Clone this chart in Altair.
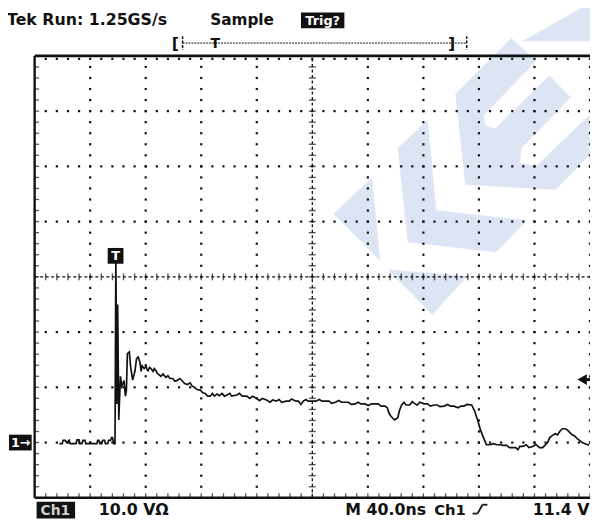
import altair as alt
import pandas as pd
import numpy as np

# ---- acquired trace (time in ns from left of screen, volts above Ch1 ground) ----
trace_t = [17.8, 19.9, 20.5, 22.0, 23.0, 24.9, 25.5, 29.8, 30.5, 32.0, 32.6, 34.1, 34.8, 36.2, 36.8,
           44.8, 45.4, 46.2, 47.0, 48.3, 49.0, 50.4, 51.0, 52.6, 53.3, 54.7, 55.4, 56.1, 57.0, 57.9,
           58.5, 59.2, 59.8, 60.6, 61.8, 62.7, 64.4, 65.4, 66.1, 66.8, 68.2, 69.1, 70.6, 72.3, 73.4,
           74.6, 75.8, 76.7, 77.4, 78.9, 80.3, 81.0, 81.7, 82.8, 83.8, 85.3, 86.2, 87.4, 88.4, 89.5,
           90.9, 92.5, 94.5, 96.0, 97.5, 99.5, 101.0, 103.0, 104.5, 106.6, 108.0, 110.1, 112.0, 113.5,
           115.1, 117.0, 119.4, 121.0, 122.9, 124.6, 126.5, 128.0, 129.5, 131.4, 133.0, 135.0, 136.7,
           138.5, 140.5, 142.0, 145.7, 147.5, 149.5, 152.8, 155.0, 157.0, 159.9, 162.0, 164.0, 167.0,
           169.5, 171.5, 174.1, 176.0, 178.0, 181.2, 183.5, 185.0, 188.3, 190.0, 191.8, 193.5, 195.4,
           197.0, 202.5, 205.0, 207.0, 209.6, 212.0, 214.0, 216.7, 219.0, 221.0, 223.8, 226.0, 228.0,
           230.9, 233.0, 235.0, 238.0, 240.5, 242.5, 245.1, 247.5, 249.5, 252.2, 254.0, 255.3, 256.5,
           258.0, 259.3, 260.5, 261.5, 262.8, 264.3, 266.0, 267.5, 270.0, 272.0, 273.5, 275.5, 277.5,
           280.6, 283.0, 285.0, 287.8, 290.0, 292.0, 294.9, 297.5, 299.5, 302.0, 305.0, 307.0, 309.1,
           311.5, 314.8, 316.9, 319.0, 321.1, 323.3, 325.4, 328.0, 330.4, 333.0, 335.5, 337.5, 340.0,
           342.0, 344.6, 346.5, 348.1, 349.5, 351.7, 354.0, 356.0, 358.8, 361.0, 363.5, 365.9, 367.5,
           369.5, 371.0, 373.0, 375.0, 376.6, 378.5, 380.1, 382.0, 383.7, 385.5, 387.2, 389.0, 390.8,
           392.5, 394.3, 396.5, 399.3]
trace_v = [-0.2, -0.2, 0.4, 0.4, 0.0, 0.4, -0.2, -0.2, 0.5, 0.5, -0.2, -0.2, 0.4, 0.4, -0.2,
           -0.2, 0.4, 0.4, -0.2, -0.2, 0.4, 0.4, -0.2, -0.2, 0.4, 0.4, 0.9, 0.9, -0.2, -0.2,
           33.5, 7.0, 25.0, 4.1, 12.0, 10.2, 11.2, 8.4, 9.5, 16.1, 16.4, 13.8, 11.3, 13.0, 15.2,
           15.5, 14.6, 12.9, 13.9, 13.4, 13.8, 13.2, 13.0, 13.6, 13.4, 12.9, 13.4, 13.0, 12.5, 12.3,
           12.0, 12.4, 11.8, 12.1, 11.6, 11.6, 11.1, 11.3, 11.6, 11.1, 10.7, 10.5, 10.8, 10.2,
           10.0, 9.6, 9.5, 9.0, 8.9, 8.4, 8.4, 8.9, 8.4, 8.8, 8.5, 8.9, 8.4,
           8.6, 8.9, 8.4, 8.6, 8.9, 8.4, 8.4, 8.0, 8.4, 8.0, 7.6, 8.0, 7.7,
           7.3, 7.7, 7.5, 7.8, 7.3, 7.5, 7.5, 7.9, 7.5, 7.5, 6.9, 7.5, 7.8,
           7.5, 7.5, 7.8, 7.5, 7.5, 7.5, 7.1, 7.3, 7.6, 7.3, 7.3, 7.3, 6.9,
           7.0, 7.3, 7.0, 7.0, 6.7, 7.0, 7.0, 7.0, 6.6, 6.6, 6.3, 5.3, 4.8,
           4.4, 4.1, 4.3, 4.5, 5.8, 6.8, 7.3, 6.8, 6.8, 7.4, 7.1, 6.8, 7.3,
           7.0, 7.0, 6.6, 6.8, 6.8, 6.5, 6.6, 6.9, 6.6, 6.6, 6.3, 6.6, 6.6,
           6.9, 6.8, 5.7, 4.1, 2.3, 0.9, -0.4, -0.4, -0.2, -0.4, -0.4, -0.5, -0.5,
           -0.9, -0.9, -0.9, -1.3, -0.7, -0.7, -0.4, -0.9, -0.7, -0.3, -0.9, -0.9, -0.5,
           0.0, 0.9, 1.3, 1.6, 1.4, 2.1, 2.5, 2.5, 2.3, 1.8, 1.4, 1.2, 0.7,
           0.4, 0.0, -0.2, -0.5]

# ---- scope settings ----
NS_PER_DIV = 40
V_PER_DIV = 10
T_MIN, T_MAX = 0, 400
V_MIN, V_MAX = -10, 70
CENTER_T, CENTER_V = 200, 30
TRIG_T = 58.3
TRIG_MARK_V = 33.8
TRIG_LEVEL = 11.4

# ---- watermark logo outline (same time / volt coordinates) ----
wm_poly = [1] * 15 + [2] * 6 + [3] * 3 + [4] * 3 + [5] * 3
wm_t = [303.2, 343.4, 361.1, 323.3, 324.5, 331.6, 370.7, 386.0, 350.5, 349.4, 361.1, 399.5, 399.5, 375.4, 310.3,
        283.0, 289.0, 354.0, 332.7, 268.8, 261.7,
        215.5, 242.8, 248.7,
        254.6, 311.4, 286.5,
        351.7, 400.0, 400.0]
wm_v = [63.1, 73.2, 69.1, 59.2, 57.4, 56.8, 66.4, 62.5, 53.3, 50.6, 50.0, 59.2, 52.1, 45.8, 46.7,
        58.3, 42.0, 40.2, 34.5, 36.3, 53.3,
        41.4, 47.9, 33.0,
        31.3, 30.1, 23.2,
        72.7, 79.5, 72.7]

W, H = 563, 448
WM = "#dde4f4"
INK = "#111111"
FONT = "DejaVu Sans"

xs = alt.Scale(domain=[T_MIN, T_MAX], nice=False, zero=False)
ys = alt.Scale(domain=[V_MIN, V_MAX], nice=False, zero=False)


def X(f):
    return alt.X(f, type="quantitative", scale=xs, axis=None)


def Y(f):
    return alt.Y(f, type="quantitative", scale=ys, axis=None)


def X2(f):
    return alt.X2(f)


def Y2(f):
    return alt.Y2(f)


one = pd.DataFrame({"a": [0]})
layers = []

# watermark
wm = pd.DataFrame({"poly": wm_poly, "t": wm_t, "v": wm_v})
wm["k"] = wm.groupby("poly").cumcount()
layers.append(alt.Chart(wm).mark_line(fill=WM, stroke=WM, strokeWidth=0.5, interpolate="linear-closed").encode(
    x=X("t"), y=Y("v"), detail="poly:N", order="k:Q"))

# graticule dots
minor_t = NS_PER_DIV / 5
minor_v = V_PER_DIV / 5
major_t = [t for t in np.arange(T_MIN + NS_PER_DIV, T_MAX + 1, NS_PER_DIV) if t != CENTER_T]
major_v = [v for v in np.arange(V_MIN + V_PER_DIV, V_MAX, V_PER_DIV) if v != CENTER_V]
dots = []
for t in major_t:
    for v in np.arange(V_MIN + minor_v, V_MAX, minor_v):
        dots.append((t, v))
for v in major_v:
    for t in np.arange(T_MIN + minor_t, T_MAX + 1, minor_t):
        dots.append((t, v))
dots_df = pd.DataFrame(dots, columns=["t", "v"])
layers.append(alt.Chart(dots_df).mark_square(size=5, color=INK, opacity=1).encode(x=X("t"), y=Y("v")))

# top frame inner dots
top_df = pd.DataFrame({"t": np.arange(T_MIN + minor_t, T_MAX + 1, minor_t), "v": V_MAX})
layers.append(alt.Chart(top_df).mark_square(size=5, color=INK, opacity=1, yOffset=3).encode(x=X("t"), y=Y("v")))
# bottom frame ticks
bot_df = pd.DataFrame({"t": np.arange(T_MIN + minor_t, T_MAX + 1, minor_t), "v": V_MIN})
layers.append(alt.Chart(bot_df).mark_tick(orient="vertical", size=5, thickness=1.3, color=INK, yOffset=-2).encode(
    x=X("t"), y=Y("v")))
# left frame ticks
left_df = pd.DataFrame({"t": T_MIN, "v": np.arange(V_MIN + minor_v, V_MAX, minor_v)})
layers.append(alt.Chart(left_df).mark_tick(orient="horizontal", size=5, thickness=1.3, color=INK, xOffset=2).encode(
    x=X("t"), y=Y("v")))

# center crosshair
ch = pd.DataFrame({"t": [T_MIN], "t2": [T_MAX], "v": [CENTER_V]})
layers.append(alt.Chart(ch).mark_rule(color=INK, strokeWidth=1.3, strokeDash=[3, 2.6]).encode(
    x=X("t"), x2=X2("t2"), y=Y("v")))
cv = pd.DataFrame({"t": [CENTER_T], "v": [V_MIN], "v2": [V_MAX]})
layers.append(alt.Chart(cv).mark_rule(color=INK, strokeWidth=1.3, strokeDash=[3, 2.6]).encode(
    x=X("t"), y=Y("v"), y2=Y2("v2")))
chx = pd.DataFrame({"t": np.arange(T_MIN + minor_t, T_MAX, minor_t), "v": CENTER_V})
layers.append(alt.Chart(chx).mark_tick(orient="vertical", size=7, thickness=1.4, color=INK).encode(
    x=X("t"), y=Y("v")))
cvy = pd.DataFrame({"t": CENTER_T, "v": np.arange(V_MIN + minor_v, V_MAX, minor_v)})
layers.append(alt.Chart(cvy).mark_tick(orient="horizontal", size=7, thickness=1.4, color=INK).encode(
    x=X("t"), y=Y("v")))

# frame
fr_h = pd.DataFrame({"t": [T_MIN, T_MIN], "t2": [T_MAX, T_MAX], "v": [V_MIN, V_MAX]})
layers.append(alt.Chart(fr_h).mark_rule(color=INK, strokeWidth=2.6).encode(x=X("t"), x2=X2("t2"), y=Y("v")))
fr_v = pd.DataFrame({"t": [T_MIN], "v": [V_MIN], "v2": [V_MAX]})
layers.append(alt.Chart(fr_v).mark_rule(color=INK, strokeWidth=2.4).encode(x=X("t"), y=Y("v"), y2=Y2("v2")))

# trace
tr = pd.DataFrame({"t": trace_t, "v": trace_v})
layers.append(alt.Chart(tr).mark_line(color=INK, strokeWidth=1.7).encode(x=X("t"), y=Y("v")))

# trigger marker box
tm = pd.DataFrame({"t": [TRIG_T], "v": [TRIG_MARK_V], "s": ["T"]})
layers.append(alt.Chart(tm).mark_square(size=256, color=INK, opacity=1).encode(x=X("t"), y=Y("v")))
layers.append(alt.Chart(tm).mark_text(color="white", font=FONT, fontSize=13, fontWeight="bold",
                                      baseline="middle").encode(x=X("t"), y=Y("v"), text="s:N"))

# trigger level arrow (right edge)
tl = pd.DataFrame({"v": [TRIG_LEVEL]})
layers.append(alt.Chart(tl).mark_point(shape="triangle-left", size=120, filled=True, color=INK, opacity=1).encode(
    x=alt.value(555), y=Y("v")))
layers.append(alt.Chart(tl).mark_rule(color=INK, strokeWidth=3).encode(
    x=alt.value(556), x2=alt.value(563), y=Y("v")))

# channel 1 ground marker
gm = pd.DataFrame({"v": [0], "s": ["1→"]})
layers.append(alt.Chart(gm).mark_rect(color=INK, opacity=1, height=16).encode(
    x=alt.value(-26), x2=alt.value(-3), y=Y("v")))
layers.append(alt.Chart(gm).mark_text(color="white", font=FONT, fontSize=13, fontWeight="bold",
                                      baseline="middle", align="left").encode(x=alt.value(-24), y=Y("v"), text="s:N"))


def txt(s, x, y, size=16, color=INK, align="left", weight="bold", baseline="alphabetic"):
    return alt.Chart(pd.DataFrame({"s": [s]})).mark_text(
        color=color, font=FONT, fontSize=size, fontWeight=weight, align=align, baseline=baseline).encode(
        x=alt.value(x), y=alt.value(y), text="s:N")


def box(x, x2, y, y2):
    return alt.Chart(one).mark_rect(color=INK, opacity=1).encode(
        x=alt.value(x), x2=alt.value(x2), y=alt.value(y), y2=alt.value(y2))


# header
layers.append(txt("Tek Run: 1.25GS/s", -28, -31))
layers.append(txt("Sample", 178, -31, size=15.5))
layers.append(box(270, 314, -44, -28))
layers.append(txt("Trig?", 292, -31, size=13, color="white", align="center"))

# record bar
layers.append(txt("[", 139, -7, size=16))
layers.append(alt.Chart(one).mark_rule(color=INK, strokeWidth=1, strokeDash=[2, 1]).encode(
    x=alt.value(150), x2=alt.value(437), y=alt.value(-13)))
for xb in (150, 438):
    layers.append(alt.Chart(one).mark_rule(color=INK, strokeWidth=1.5, strokeDash=[3, 1.5]).encode(
        x=alt.value(xb), y=alt.value(-20), y2=alt.value(-6)))
layers.append(txt("T", 183, -8, size=14, align="center"))
layers.append(txt("]", 419, -7, size=16))

# footer
layers.append(box(2, 41, 452, 469))
layers.append(txt("Ch1", 21, 465, size=14, color="#cfcfcf", align="center"))
layers.append(txt("10.0 VΩ", 65, 465))
layers.append(txt("M 40.0ns", 315, 465))
layers.append(txt("Ch1", 405, 465, size=15))
for (a, b, c, d) in ((444, 449, 464, 464), (449, 454, 464, 455), (454, 459, 455, 455)):
    layers.append(alt.Chart(one).mark_rule(color=INK, strokeWidth=1.8).encode(
        x=alt.value(a), x2=alt.value(b), y=alt.value(c), y2=alt.value(d)))
layers.append(txt("11.4 V", 505, 465))

chart = alt.layer(*layers).properties(
    width=W, height=H, autosize="none",
    padding={"left": 27, "top": 45, "right": 0, "bottom": 22},
    background="white",
).configure_view(stroke=None)

chart.save("out.html", embed_options={"renderer": "svg", "actions": False})
